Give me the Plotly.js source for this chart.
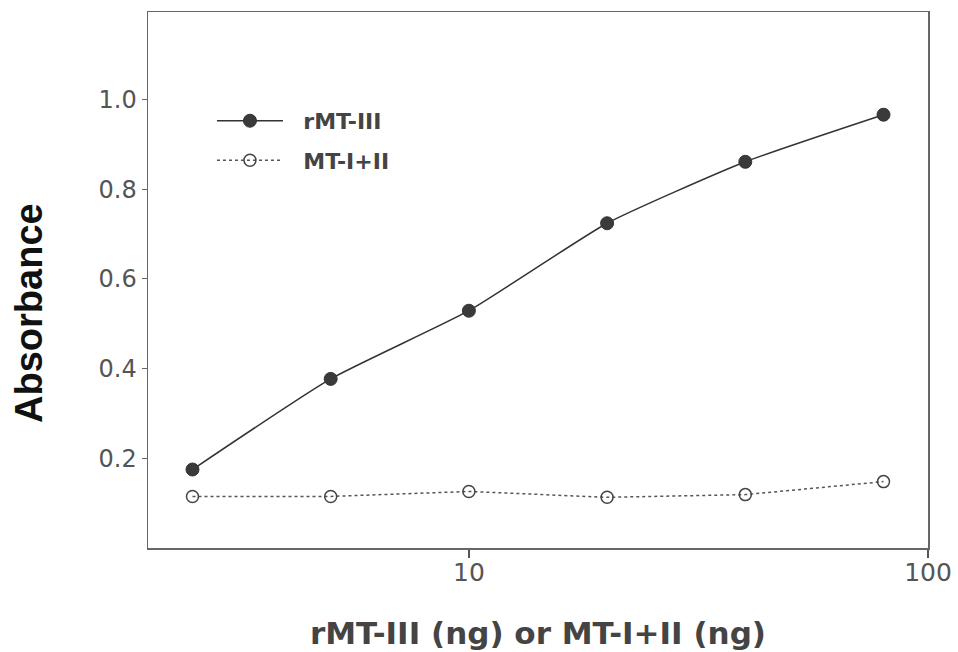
<!DOCTYPE html>
<html>
<head>
<meta charset="utf-8">
<script src="https://cdn.plot.ly/plotly-3.0.1.min.js"></script>
<style>html,body{margin:0;padding:0;background:#fff;}#chart{width:958px;height:652px;}</style>
</head>
<body>
<div id="chart"></div>
<script>
const amountsNg = [2.5, 5, 10, 20, 40, 80];
const rMTIII = [0.175, 0.377, 0.529, 0.724, 0.861, 0.966];
const MTIandII = [0.115, 0.115, 0.126, 0.113, 0.119, 0.148];
const seriesNames = ['rMT-III', 'MT-I+II'];
const yTicks = [0.2, 0.4, 0.6, 0.8, 1.0];
const xTicks = [10, 100];
const xTickLabels = ['10', '100'];
const yTitle = 'Absorbance';
const xTitle = 'rMT-III (ng) or MT-I+II (ng)';

const gap = '\u00a0\u00a0';
const traces = [
  {
    x: amountsNg, y: rMTIII, name: gap + seriesNames[0], type: 'scatter', mode: 'lines+markers',
    legendgroup: 'a',
    line: {color: '#333', width: 1.5, shape: 'spline', smoothing: 0.5},
    marker: {symbol: 'circle', size: 13, color: '#3a3a3a', line: {color: '#333', width: 1}}
  },
  {
    x: amountsNg, y: MTIandII, name: gap + seriesNames[1], type: 'scatter', mode: 'lines+markers',
    legendgroup: 'b',
    line: {color: '#555', width: 1.5, dash: 'dot'},
    marker: {symbol: 'circle-open', size: 12, color: '#444', line: {width: 1.5}}
  }
];

const layout = {
  width: 958, height: 652,
  paper_bgcolor: '#fff', plot_bgcolor: '#fff',
  margin: {l: 148, r: 30, t: 12, b: 104},
  font: {family: 'DejaVu Sans, sans-serif', color: '#555'},
  showlegend: true,
  legend: {
    x: 0.082, y: 0.836, xanchor: 'left', yanchor: 'top',
    bgcolor: 'rgba(0,0,0,0)', borderwidth: 0,
    itemwidth: 66, traceorder: 'grouped', tracegroupgap: 8,
    font: {size: 22, color: '#444', family: 'DejaVu Sans, sans-serif', weight: 'bold'}
  },
  xaxis: {
    type: 'log', range: [Math.log10(2), 2],
    tickvals: xTicks, ticktext: xTickLabels,
    ticks: 'outside', ticklen: 8, tickcolor: '#555', tickwidth: 1.5,
    ticklabelstandoff: -7,
    showgrid: false, zeroline: false,
    showline: true, linecolor: '#666', linewidth: 1.5, mirror: true,
    tickfont: {size: 25, color: '#555'},
    title: {text: xTitle, font: {size: 31, color: '#444', family: 'DejaVu Sans, sans-serif', weight: 'bold'}, standoff: 37}
  },
  yaxis: {
    range: [0, 1.195],
    tickvals: yTicks, tickformat: '.1f',
    ticks: 'outside', ticklen: 5, tickcolor: '#666', tickwidth: 1,
    showgrid: false, zeroline: false,
    showline: true, linecolor: '#666', linewidth: 1.5, mirror: true,
    tickfont: {size: 24, color: '#555'}
  },
  annotations: [{
    text: yTitle, textangle: -90, showarrow: false,
    xref: 'paper', yref: 'paper', x: -0.1526, y: 0.4385,
    xanchor: 'center', yanchor: 'middle',
    font: {size: 38, color: '#111', family: 'Liberation Sans, Arial, sans-serif', weight: 'bold'}
  }]
};

Plotly.newPlot('chart', traces, layout, {displayModeBar: false, staticPlot: true});
</script>
</body>
</html>
